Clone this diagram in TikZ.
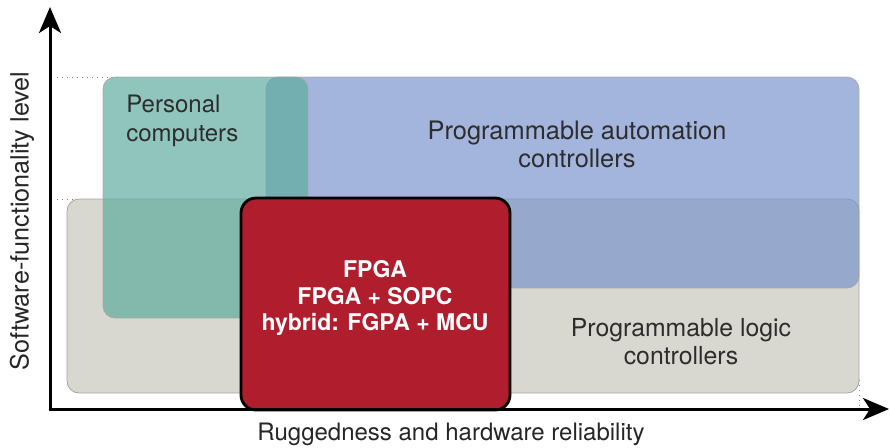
\documentclass[tikz,border=0pt]{standalone}
\usepackage{fontspec}
\setmainfont{TeX Gyre Heros}
\usetikzlibrary{arrows.meta}
\definecolor{plcgray}{RGB}{216,216,208}
\definecolor{pcteal}{RGB}{95,172,159}
\definecolor{pacblue}{RGB}{124,149,205}
\definecolor{fpgared}{RGB}{176,30,45}
\definecolor{edgegray}{RGB}{165,165,160}
\definecolor{labelgray}{RGB}{45,45,45}

\begin{document}
\begin{tikzpicture}[x=0.5pt,y=-0.5pt,
  region/.style={draw=edgegray,line width=0.4pt,rounded corners=6pt},
  axis/.style={line width=1.5pt,-{Stealth[length=13pt,width=11pt,inset=3.5pt]}},
  guide/.style={draw=gray,dotted,line width=0.5pt},
  lbl/.style={text=labelgray,font=\fontsize{12}{14.5}\selectfont,align=center,inner sep=0pt}]
\useasboundingbox (0,0) rectangle (890,447);
\coordinate (origin) at (50,409);
\coordinate (ytop) at (50,7);
\coordinate (xend) at (889,409);
% dotted guides to the axes
\draw[guide] (57,77)--(120,77);
\draw[guide] (57,199)--(80,199);
\draw[guide] (859,380)--(859,408);
% regions
\draw[region,fill=plcgray] (67,199) rectangle (859,393);
\draw[region,fill=pacblue,fill opacity=0.7,draw opacity=0.8] (266,77) rectangle (859,288);
\draw[region,fill=pcteal,fill opacity=0.7,draw opacity=0.8] (103,77) rectangle (308,318);
\draw[fill=fpgared,line width=1.4pt,rounded corners=7.5pt] (241,198) rectangle (510,410);
% labels
\node[lbl,anchor=west,align=left] (pc) at (126,121) {Personal\\computers};
\node[lbl,font=\fontsize{12.7}{14}\selectfont] (pac) at (577,144) {Programmable automation\\controllers};
\node[lbl,font=\fontsize{12.4}{14}\selectfont] (plc) at (681,342) {Programmable logic\\controllers};
\node[lbl,text=white,font=\fontsize{11.5}{13.3}\selectfont\bfseries] (fpga) at (375,298)
  {FPGA\\FPGA + SOPC\\hybrid: FGPA + MCU};
% axes
\draw[axis] (50,411)--(ytop);
\draw[axis] (49,409)--(xend);
\node[lbl,text=black!85] (xlabel) at (451,434) {Ruggedness and hardware reliability};
\node[lbl,text=black!85,rotate=90,font=\fontsize{12.6}{14}\selectfont] (ylabel) at (22,221) {Software-functionality level};
\end{tikzpicture}
\end{document}
